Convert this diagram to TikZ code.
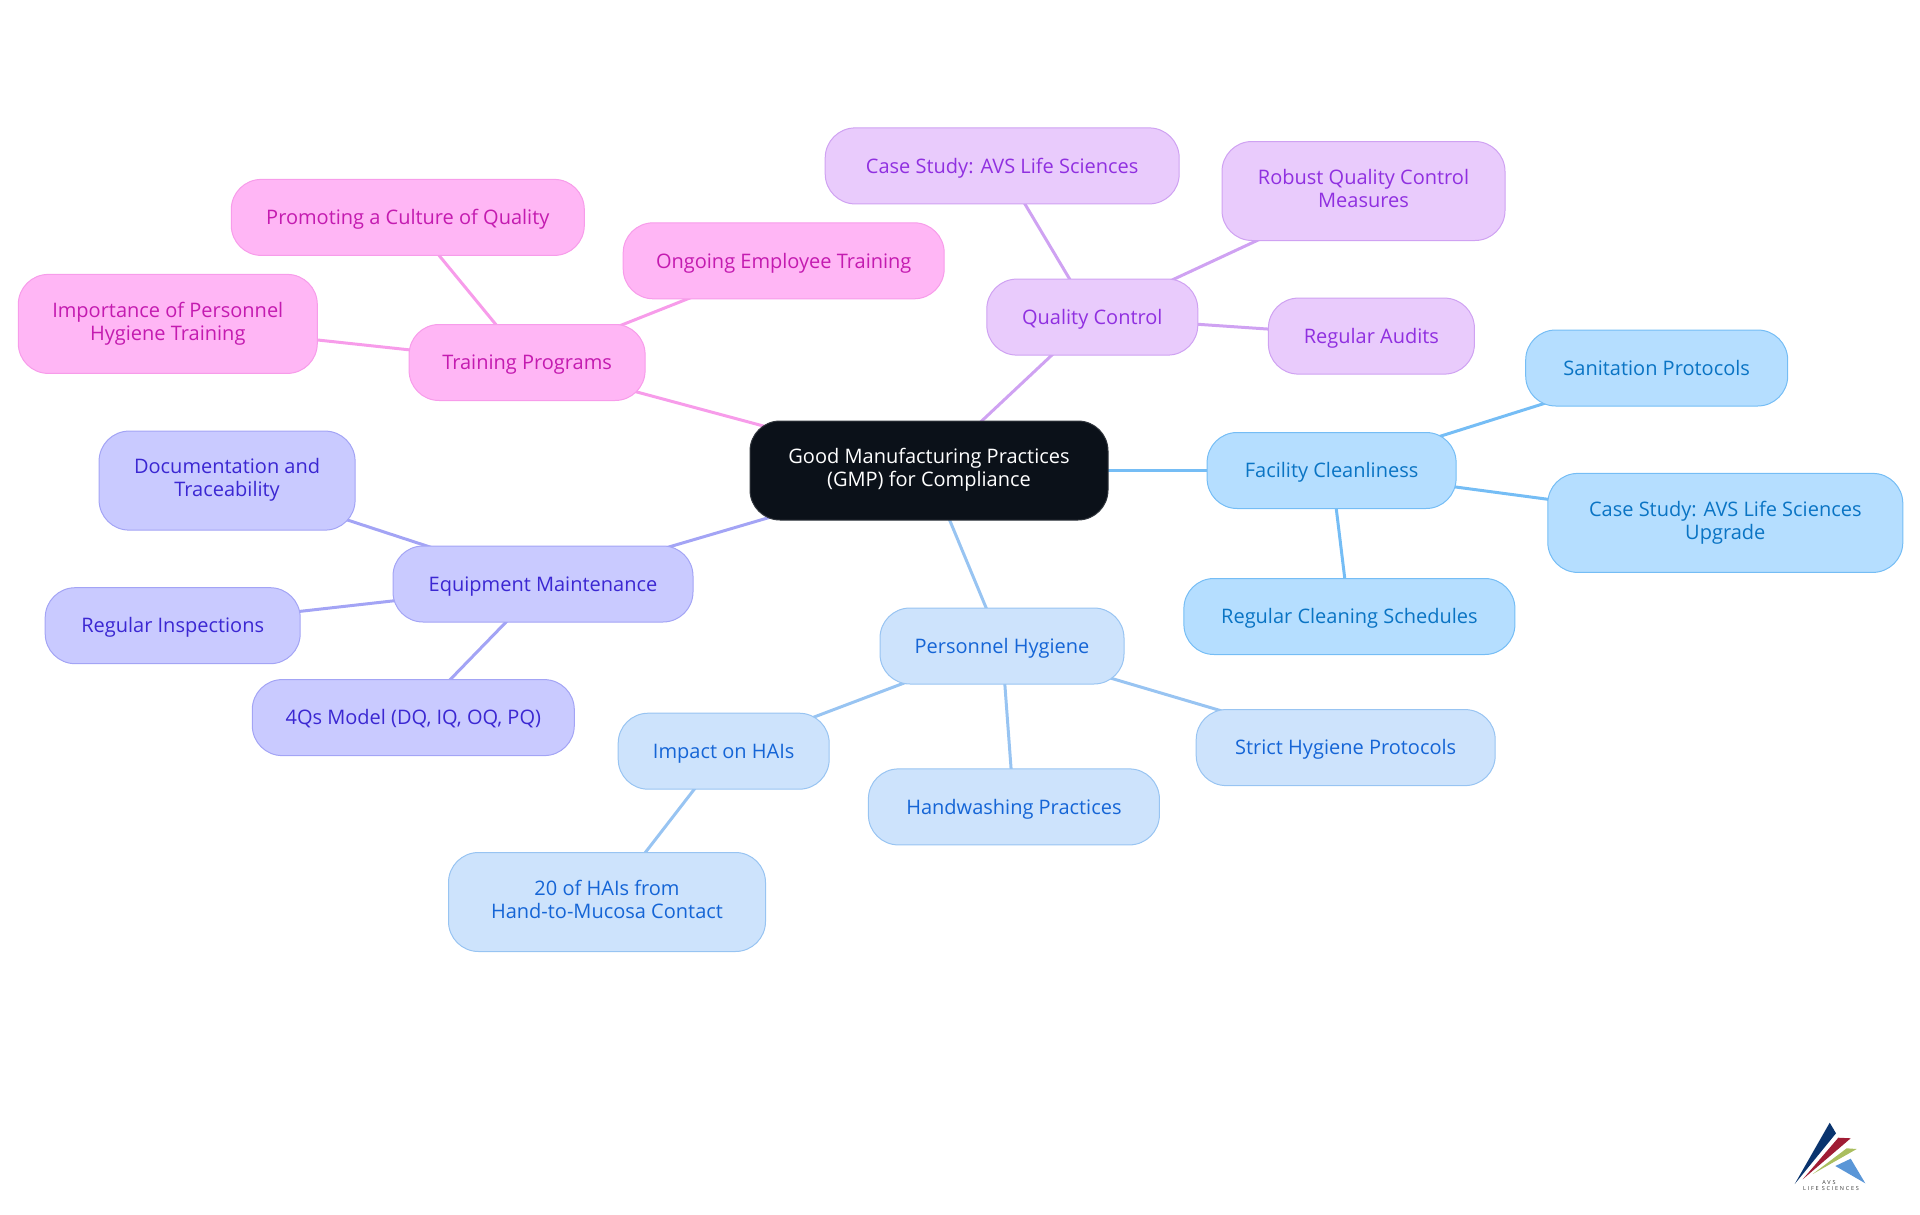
\documentclass[tikz,border=0pt]{standalone}
\usepackage{fontspec}
\setmainfont{Open Sans}
\newfontfamily\logofont[LetterSpace=32]{Open Sans}
\usepackage{xcolor}
\usetikzlibrary{backgrounds}

\definecolor{rootfill}{HTML}{0B1119}
\definecolor{trainfill}{HTML}{FFB6F5}
\definecolor{trainline}{HTML}{F79CEA}
\definecolor{traintext}{HTML}{C41BB0}
\definecolor{qualfill}{HTML}{E9CBFC}
\definecolor{qualline}{HTML}{CFA2F2}
\definecolor{qualtext}{HTML}{9030E0}
\definecolor{facfill}{HTML}{B5DEFF}
\definecolor{facline}{HTML}{75BDF5}
\definecolor{factext}{HTML}{0A74C4}
\definecolor{hygfill}{HTML}{CDE3FC}
\definecolor{hygline}{HTML}{98C4F2}
\definecolor{hygtext}{HTML}{1565D6}
\definecolor{equipfill}{HTML}{C9CAFF}
\definecolor{equipline}{HTML}{A3A4F5}
\definecolor{equiptext}{HTML}{3B27D2}

\begin{document}
\begin{tikzpicture}[node distance=0pt,
	base node/.style={rounded corners=30pt,draw,line width=1pt,inner sep=0pt,align=center,minimum height=76pt,font=\fontsize{20}{23}\selectfont,
		execute at begin node={\rule{0pt}{20pt}},execute at end node={\rule[-5.5pt]{0pt}{5.5pt}}},
	tall node/.style={minimum height=99pt},
	root node/.style={base node,tall node,fill=rootfill,draw=rootfill!85!white,text=white},
	train node/.style={base node,fill=trainfill,draw=trainline,text=traintext},
	qual node/.style={base node,fill=qualfill,draw=qualline,text=qualtext},
	fac node/.style={base node,fill=facfill,draw=facline,text=factext},
	hyg node/.style={base node,fill=hygfill,draw=hygline,text=hygtext},
	equip node/.style={base node,fill=equipfill,draw=equipline,text=equiptext},
	edge line/.style={line width=3pt}]
	\useasboundingbox (0,0) rectangle (1920pt,-1215pt);
	% Nodes
	  \node[root node,minimum width=358pt] (root) at (929pt,-470.5pt) {Good Manufacturing Practices\\(GMP) for Compliance};

	  \node[qual node,minimum width=211pt] (QC) [right of = root,xshift=163.3pt,yshift=153.4pt] {Quality Control};
	  \node[qual node,minimum width=354pt] (QCcase) [right of = QC,xshift=-90.1pt,yshift=151.2pt] {Case Study: AVS Life Sciences};
	  \node[qual node,tall node,minimum width=283pt] (QCrobust) [right of = QC,xshift=271.2pt,yshift=126.1pt] {Robust Quality Control\\Measures};
	  \node[qual node,minimum width=206pt] (QCaudits) [right of = QC,xshift=279.1pt,yshift=-19pt] {Regular Audits};

	  \node[fac node,minimum width=249pt] (FC) [right of = root,xshift=402.6pt] {Facility Cleanliness};
	  \node[fac node,minimum width=262pt] (FCsanit) [right of = FC,xshift=325.1pt,yshift=102.5pt] {Sanitation Protocols};
	  \node[fac node,tall node,minimum width=355pt] (FCcase) [right of = FC,xshift=393.7pt,yshift=-52.4pt] {Case Study: AVS Life Sciences\\Upgrade};
	  \node[fac node,minimum width=331pt] (FCsched) [right of = FC,xshift=17.8pt,yshift=-146pt] {Regular Cleaning Schedules};

	  \node[hyg node,minimum width=244pt] (PH) [right of = root,xshift=73pt,yshift=-175.5pt] {Personnel Hygiene};
	  \node[hyg node,minimum width=299pt] (PHstrict) [right of = PH,xshift=343.7pt,yshift=-101.6pt] {Strict Hygiene Protocols};
	  \node[hyg node,minimum width=291pt] (PHhand) [right of = PH,xshift=11.9pt,yshift=-160.9pt] {Handwashing Practices};
	  \node[hyg node,minimum width=211pt] (PHimpact) [right of = PH,xshift=-278.3pt,yshift=-105.2pt] {Impact on HAIs};
	  \node[hyg node,tall node,minimum width=317pt] (PHhais) [right of = PHimpact,xshift=-116.7pt,yshift=-150.8pt] {20 of HAIs from\\Hand-to-Mucosa Contact};

	  \node[equip node,minimum width=300pt] (EM) [right of = root,xshift=-386pt,yshift=-113.5pt] {Equipment Maintenance};
	  \node[equip node,minimum width=322pt] (EMmodel) [right of = EM,xshift=-129.7pt,yshift=-133.6pt] {4Qs Model (DQ, IQ, OQ, PQ)};
	  \node[equip node,minimum width=255pt] (EMinsp) [right of = EM,xshift=-370.3pt,yshift=-41.7pt] {Regular Inspections};
	  \node[equip node,tall node,minimum width=256pt] (EMdoc) [right of = EM,xshift=-315.9pt,yshift=103.4pt] {Documentation and\\Traceability};

	  \node[train node,minimum width=236pt] (TP) [right of = root,xshift=-401.9pt,yshift=108pt] {Training Programs};
	  \node[train node,tall node,minimum width=299pt] (TPhyg) [right of = TP,xshift=-359.3pt,yshift=38.6pt] {Importance of Personnel\\Hygiene Training};
	  \node[train node,minimum width=353pt] (TPcult) [right of = TP,xshift=-119.3pt,yshift=145.1pt] {Promoting a Culture of Quality};
	  \node[train node,minimum width=321pt] (TPongo) [right of = TP,xshift=256.6pt,yshift=101.7pt] {Ongoing Employee Training};

	% Edges
	  \begin{pgfonlayer}{background}
	  \draw[edge line,qualline]  (root.center) -- (QC.center);
	  \draw[edge line,qualline]  (QC.center) -- (QCcase.center);
	  \draw[edge line,qualline]  (QC.center) -- (QCrobust.center);
	  \draw[edge line,qualline]  (QC.center) -- (QCaudits.center);
	  \draw[edge line,facline]   (root.center) -- (FC.center);
	  \draw[edge line,facline]   (FC.center) -- (FCsanit.center);
	  \draw[edge line,facline]   (FC.center) -- (FCcase.center);
	  \draw[edge line,facline]   (FC.center) -- (FCsched.center);
	  \draw[edge line,hygline]   (root.center) -- (PH.center);
	  \draw[edge line,hygline]   (PH.center) -- (PHstrict.center);
	  \draw[edge line,hygline]   (PH.center) -- (PHhand.center);
	  \draw[edge line,hygline]   (PH.center) -- (PHimpact.center);
	  \draw[edge line,hygline]   (PHimpact.center) -- (PHhais.center);
	  \draw[edge line,equipline] (root.center) -- (EM.center);
	  \draw[edge line,equipline] (EM.center) -- (EMmodel.center);
	  \draw[edge line,equipline] (EM.center) -- (EMinsp.center);
	  \draw[edge line,equipline] (EM.center) -- (EMdoc.center);
	  \draw[edge line,trainline] (root.center) -- (TP.center);
	  \draw[edge line,trainline] (TP.center) -- (TPhyg.center);
	  \draw[edge line,trainline] (TP.center) -- (TPcult.center);
	  \draw[edge line,trainline] (TP.center) -- (TPongo.center);
	  \end{pgfonlayer}

	% Logo
	  \fill[fill={rgb,255:red,10;green,52;blue,110}] (1794.7pt,-1184pt) -- (1829.7pt,-1122.7pt) -- (1836pt,-1133.3pt) -- cycle;
	  \fill[fill={rgb,255:red,160;green,28;blue,52}] (1802.7pt,-1179.3pt) -- (1838.3pt,-1137.7pt) -- (1850.7pt,-1138.3pt) -- cycle;
	  \fill[fill={rgb,255:red,170;green,190;blue,95}] (1812.7pt,-1174pt) -- (1846.7pt,-1148.3pt) -- (1856.7pt,-1149pt) -- cycle;
	  \fill[fill={rgb,255:red,90;green,150;blue,215}] (1835.3pt,-1166pt) -- (1850.7pt,-1158.7pt) -- (1865.3pt,-1183.3pt) -- cycle;
	  \node[inner sep=0pt,font=\logofont\fontsize{5.5}{6}\selectfont,text=black!80] (logoA) at (1829pt,-1182.5pt) {AVS};
	  \node[inner sep=0pt,font=\logofont\fontsize{5.5}{6}\selectfont,text=black!80] (logoB) at (1831pt,-1189pt) {LIFE SCIENCES};
\end{tikzpicture}
\end{document}
